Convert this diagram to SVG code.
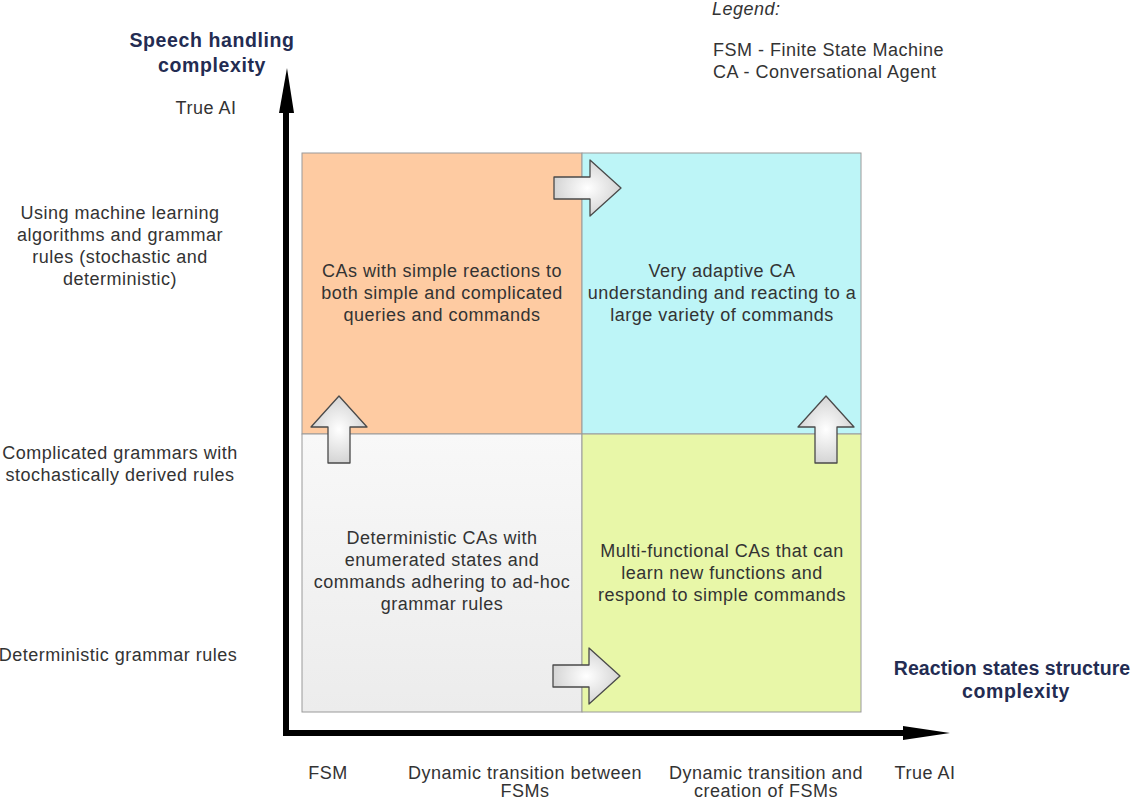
<svg xmlns="http://www.w3.org/2000/svg" width="1133" height="801" viewBox="0 0 1133 801">
<style>
.t{font-family:"Liberation Sans",Arial,Helvetica,sans-serif;font-size:18px;fill:#333;text-anchor:middle;letter-spacing:0.5px}
.l{text-anchor:start}
.h{font-family:"Liberation Sans",Arial,sans-serif;font-weight:bold;font-size:19.5px;fill:#232c52;text-anchor:middle;letter-spacing:0.6px}
.q{stroke:#9a9a9a;stroke-width:1}
.ba{fill:url(#ag);stroke:#4a4a4a;stroke-width:1.3;stroke-linejoin:round}
.ax{stroke:#000;stroke-width:6;fill:none}
</style>
<defs>
<radialGradient id="ag" cx="0.5" cy="0.5" r="0.6">
<stop offset="0" stop-color="#ffffff"/>
<stop offset="1" stop-color="#cccccc"/>
</radialGradient>
<linearGradient id="gg" x1="0" y1="0" x2="0" y2="1">
<stop offset="0" stop-color="#f8f8f8"/>
<stop offset="1" stop-color="#ececec"/>
</linearGradient>
<path id="arr" d="M -36,-11 H 0 V -28 L 31,0 L 0,28 V 11 H -36 Z"/>
</defs>
<rect width="1133" height="801" fill="#fff"/>

<g id="q-tl"><rect class="q" x="302" y="153" width="280" height="281" fill="#fecba2"/>
<text class="t" x="442" y="277">CAs with simple reactions to</text>
<text class="t" x="442" y="299">both simple and complicated</text>
<text class="t" x="442" y="321">queries and commands</text></g>
<g id="q-tr"><rect class="q" x="582" y="153" width="279" height="281" fill="#bdf5f7"/>
<text class="t" x="722" y="277">Very adaptive CA</text>
<text class="t" x="722" y="299">understanding and reacting to a</text>
<text class="t" x="722" y="321">large variety of commands</text></g>
<g id="q-bl"><rect class="q" x="302" y="434" width="280" height="278" fill="url(#gg)"/>
<text class="t" x="442" y="544">Deterministic CAs with</text>
<text class="t" x="442" y="566">enumerated states and</text>
<text class="t" x="442" y="588">commands adhering to ad-hoc</text>
<text class="t" x="442" y="610">grammar rules</text></g>
<g id="q-br"><rect class="q" x="582" y="434" width="279" height="278" fill="#e8f7a8"/>
<text class="t" x="722" y="557">Multi-functional CAs that can</text>
<text class="t" x="722" y="579">learn new functions and</text>
<text class="t" x="722" y="601">respond to simple commands</text></g>

<g id="block-arrows">
<use href="#arr" class="ba" transform="translate(590,188)"/>
<use href="#arr" class="ba" transform="translate(589,676)"/>
<use href="#arr" class="ba" transform="translate(339,427) rotate(-90)"/>
<use href="#arr" class="ba" transform="translate(826,427) rotate(-90)"/>
</g>

<g id="connectors">
<path class="ax" d="M 286,736 V 110 M 283,733 H 906"/>
<polygon points="279,113 294,113 287,68" fill="#000"/>
<polygon points="903,726 903,740 950,733" fill="#000"/>
</g>

<g id="y-axis-title"><text class="h" x="212" y="47">Speech handling</text>
<text class="h" x="212" y="72">complexity</text></g>
<g id="x-axis-title"><text class="h" x="1012" y="675" style="letter-spacing:0.1px">Reaction states structure</text>
<text class="h" x="1016" y="698">complexity</text></g>

<g id="y-labels">
<text class="t" x="206" y="114">True AI</text>
<text class="t" x="120" y="219">Using machine learning</text>
<text class="t" x="120" y="241">algorithms and grammar</text>
<text class="t" x="120" y="263">rules (stochastic and</text>
<text class="t" x="120" y="285">deterministic)</text>
<text class="t" x="120" y="459">Complicated grammars with</text>
<text class="t" x="120" y="481">stochastically derived rules</text>
<text class="t" x="118" y="661">Deterministic grammar rules</text>
</g>
<g id="x-labels">
<text class="t" x="328" y="779">FSM</text>
<text class="t" x="525" y="779">Dynamic transition between</text>
<text class="t" x="525" y="797">FSMs</text>
<text class="t" x="766" y="779">Dynamic transition and</text>
<text class="t" x="766" y="797">creation of FSMs</text>
<text class="t" x="925" y="779">True AI</text>
</g>
<g id="legend">
<text class="t l" x="712" y="15" font-style="italic">Legend:</text>
<text class="t l" x="713" y="56">FSM - Finite State Machine</text>
<text class="t l" x="713" y="78">CA - Conversational Agent</text>
</g>
</svg>
